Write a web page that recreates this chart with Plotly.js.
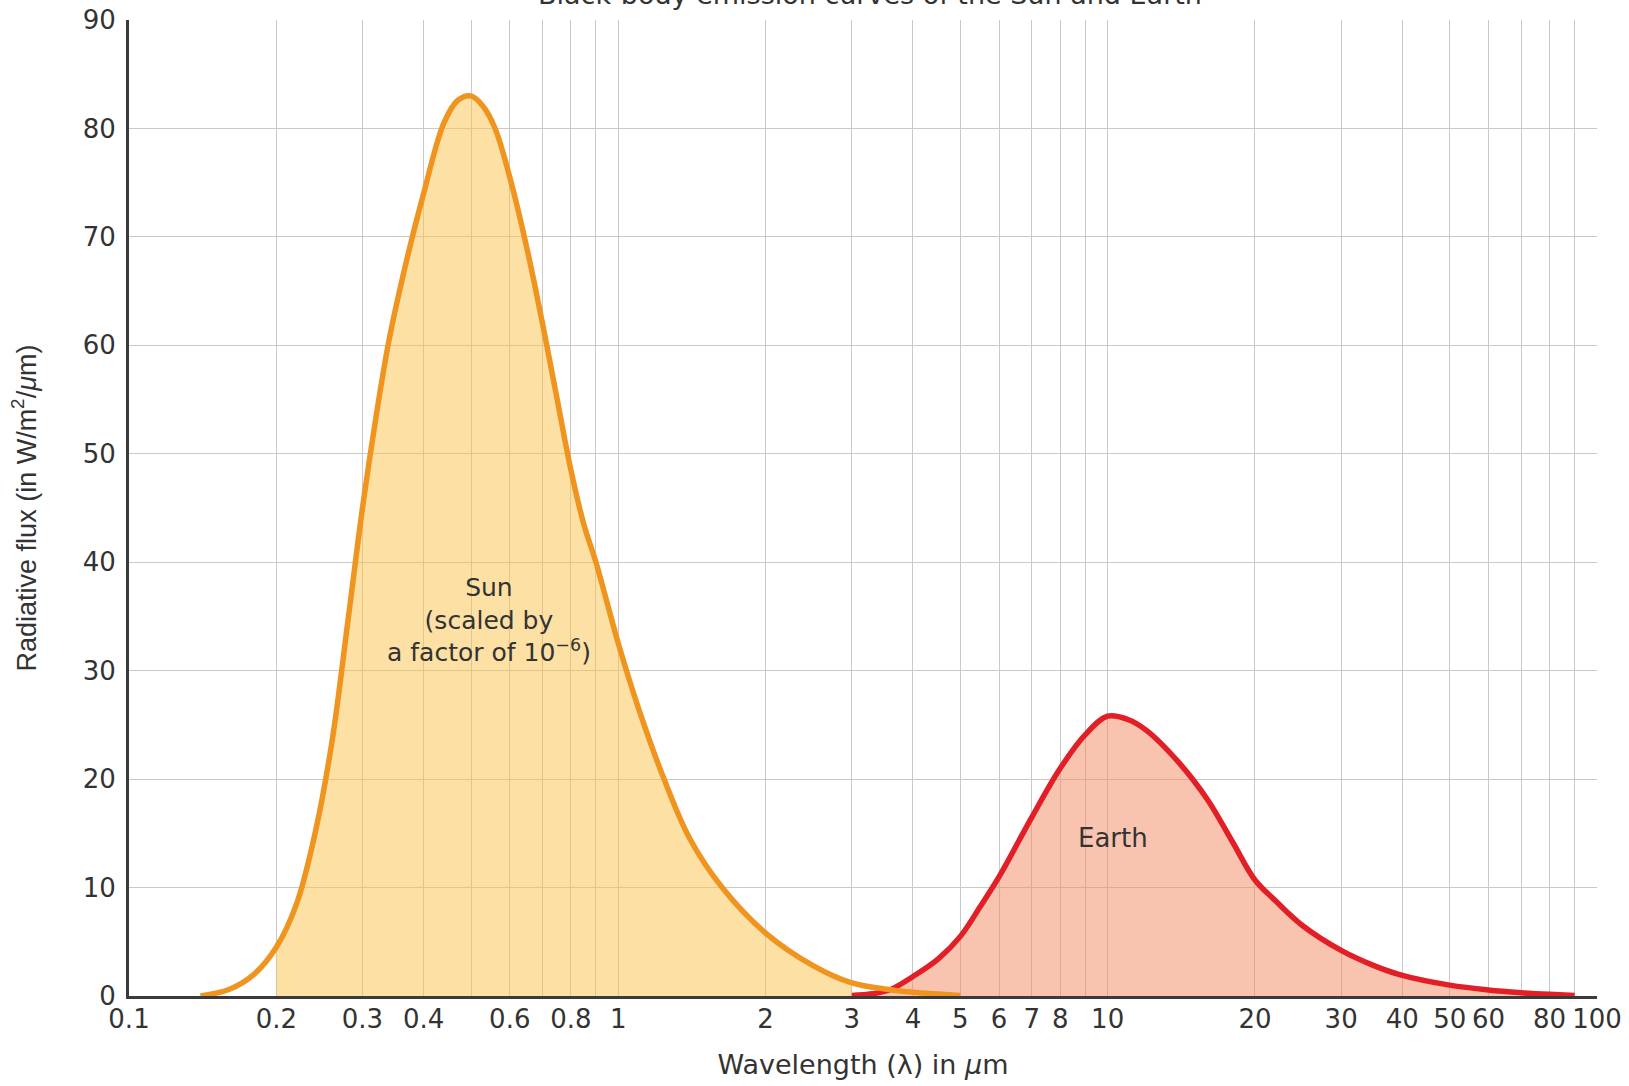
<!DOCTYPE html>
<html>
<head>
<meta charset="utf-8">
<script src="https://cdn.plot.ly/plotly-3.0.1.min.js"></script>
<style>html,body{margin:0;padding:0;background:#fff;}#chart{width:1629px;height:1086px;}</style>
</head>
<body>
<div id="chart"></div>
<script>
// Sun black-body curve (scaled by 1e-6), wavelength in µm
const sunWavelength = [0.14, 0.16, 0.18, 0.2, 0.22, 0.24, 0.26, 0.28, 0.3, 0.32, 0.34, 0.37, 0.4, 0.44, 0.47, 0.5, 0.53, 0.56, 0.6, 0.65, 0.7, 0.75, 0.8, 0.85, 0.9, 1.0, 1.1, 1.24, 1.4, 1.63, 2.0, 2.5, 3.0, 3.5, 4.0, 5.0];
const sunFlux       = [0.0, 0.6, 2.0, 4.5, 8.5, 15, 23.5, 34.5, 45, 53.5, 60.5, 68, 74, 80.5, 82.6, 83, 82, 80, 75.5, 69, 62, 55, 48.5, 43.5, 40, 32.5, 26.5, 20, 14.5, 10, 5.8, 2.8, 1.2, 0.65, 0.35, 0.05];
// Earth black-body curve
const earthWavelength = [3, 3.3, 3.6, 4, 4.5, 5, 5.5, 6, 7, 8, 9, 10, 11, 12, 14, 16, 18, 20, 22, 25, 30, 35, 40, 50, 60, 70, 80, 90];
const earthFlux       = [0.05, 0.2, 0.6, 1.8, 3.4, 5.5, 8.3, 11.0, 16.5, 21.0, 24.1, 25.8, 25.5, 24.5, 21.5, 18.1, 14.2, 10.7, 8.8, 6.5, 4.2, 2.8, 1.9, 1.0, 0.55, 0.3, 0.15, 0.05];
// shaded wavelength ranges
const sunFillRange = [0.2, 3.0];
const earthFillRange = [3.0, 90];
// axis ticks
const xTickVals = [0.1,0.2,0.3,0.4,0.5,0.6,0.7,0.8,0.9,1,2,3,4,5,6,7,8,9,10,20,30,40,50,60,70,80,90,100];
const xTickText = ['0.1','0.2','0.3','0.4','','0.6','','0.8','','1','2','3','4','5','6','7','8','','10','20','30','40','50','60','','80','','100'];
const yTickVals = [0,10,20,30,40,50,60,70,80,90];
const chartTitle = 'Black-body emission curves of the Sun and Earth';

function subset(xs, ys, r) {
  const ox = [], oy = [];
  xs.forEach((v, i) => { if (v >= r[0] - 1e-9 && v <= r[1] + 1e-9) { ox.push(v); oy.push(ys[i]); } });
  return [ox, oy];
}
const [sfx, sfy] = subset(sunWavelength, sunFlux, sunFillRange);
const [efx, efy] = subset(earthWavelength, earthFlux, earthFillRange);

const FONT = 'DejaVu Sans, Liberation Sans, Arial, sans-serif';
const FONT_R = 'Liberation Sans, Arial, sans-serif';
const TXT = '#333333';
const SM = 1.0;

const traces = [
  {x: sfx, y: sfy, type: 'scatter', mode: 'lines', fill: 'tozeroy', fillcolor: 'rgba(249,193,73,0.5)', line: {width: 0, shape: 'spline', smoothing: SM}, hoverinfo: 'skip', showlegend: false},
  {x: efx, y: efy, type: 'scatter', mode: 'lines', fill: 'tozeroy', fillcolor: 'rgba(241,137,97,0.5)', line: {width: 0, shape: 'spline', smoothing: SM}, hoverinfo: 'skip', showlegend: false},
  {x: earthWavelength, y: earthFlux, type: 'scatter', mode: 'lines', name: 'Earth', line: {color: '#E21F26', width: 5.5, shape: 'spline', smoothing: SM}, showlegend: false},
  {x: sunWavelength, y: sunFlux, type: 'scatter', mode: 'lines', name: 'Sun', line: {color: '#EF941E', width: 5.5, shape: 'spline', smoothing: SM}, showlegend: false}
];

const layout = {
  width: 1629, height: 1086,
  margin: {l: 129, r: 32, t: 20, b: 90},
  paper_bgcolor: '#ffffff', plot_bgcolor: '#ffffff',
  font: {family: FONT, color: TXT, size: 26},
  xaxis: {
    type: 'log', range: [-1, 2],
    tickmode: 'array', tickvals: xTickVals, ticktext: xTickText,
    ticks: '', ticklabelstandoff: -2,
    showgrid: true, gridcolor: '#c9c9c9', gridwidth: 1,
    showline: true, linecolor: '#3a3a3a', linewidth: 3,
    zeroline: false,
    tickfont: {family: FONT, size: 26, color: TXT},
    title: {text: 'Wavelength (λ) in <i>μ</i>m', standoff: 22, font: {family: FONT, size: 27, color: TXT}}
  },
  yaxis: {
    range: [0, 90], tickmode: 'array', tickvals: yTickVals,
    ticks: '', ticklabelstandoff: 5,
    showgrid: true, gridcolor: '#c9c9c9', gridwidth: 1,
    showline: true, linecolor: '#3a3a3a', linewidth: 3,
    zeroline: false,
    tickfont: {family: FONT, size: 26, color: TXT},
    title: {text: 'Radiative flux (in W/m<sup>2</sup>/<i>μ</i>m)', standoff: 39, font: {family: FONT_R, size: 27, color: TXT}}
  },
  annotations: [
    {x: 0.505, y: 1, xref: 'paper', yref: 'paper', xanchor: 'center', yanchor: 'bottom', yshift: 8, text: chartTitle, showarrow: false, font: {family: FONT, size: 27, color: TXT}},
    {x: Math.log10(0.545), y: 34.7, xref: 'x', yref: 'y', text: 'Sun<br>(scaled by<br>a factor of 10<sup>−6</sup>)', showarrow: false, font: {family: FONT, size: 25, color: TXT}, align: 'center'},
    {x: Math.log10(10.26), y: 14.6, xref: 'x', yref: 'y', text: 'Earth', showarrow: false, font: {family: FONT, size: 26, color: TXT}}
  ]
};

Plotly.newPlot('chart', traces, layout, {displayModeBar: false, staticPlot: true});
</script>
</body>
</html>
